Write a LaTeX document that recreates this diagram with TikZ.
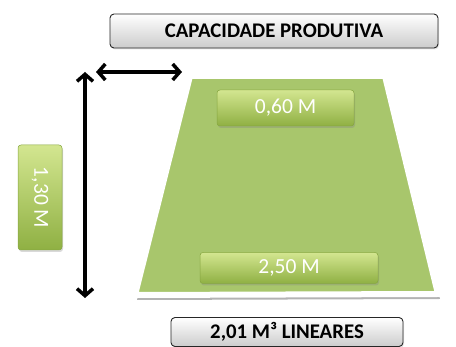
\documentclass[tikz,border=0pt]{standalone}
\usepackage{fontspec}
\setmainfont{Carlito}
\usetikzlibrary{shadows,arrows.meta}
\definecolor{field}{HTML}{A8C66C}
\definecolor{gtop}{HTML}{D3E690}
\definecolor{gbot}{HTML}{8FB043}
\definecolor{gedge}{HTML}{86A640}
\begin{document}
\begin{tikzpicture}[x=1pt,y=-1pt,
  graybox/.style={draw=black!85, line width=0.9pt, rounded corners=4pt,
    top color=white, bottom color=black!20, inner sep=0pt,
    font=\bfseries\fontsize{20.8}{24}\selectfont,
    drop shadow={opacity=0.2,shadow xshift=1pt,shadow yshift=-1.5pt}},
  greenbox/.style={draw=gedge, line width=0.5pt, rounded corners=3pt,
    top color=gtop, bottom color=gbot, inner sep=0pt, text=white,
    font=\fontsize{21.5}{24}\selectfont,
    drop shadow={opacity=0.3,shadow xshift=1pt,shadow yshift=-2pt}},
  dimarrow/.style={{Straight Barb[length=7pt,width=16pt,line width=3.5pt]}-{Straight Barb[length=7pt,width=16pt,line width=3.5pt]},
    line width=3.5pt, black}
]
\useasboundingbox (0,0) rectangle (456,347);
% field
\path[fill=field, draw=white, line width=6pt, line join=miter,
  drop shadow={opacity=0.6,shadow xshift=2pt,shadow yshift=-5pt}]
  (190,76) -- (385,76) -- (438,294) -- (135,295) -- cycle;
% title boxes
\node[graybox, minimum width=328pt, minimum height=34pt] (title) at (274,31) {CAPACIDADE PRODUTIVA};
\node[graybox, minimum width=232pt, minimum height=29pt] (total) at (287,332) {2,01 M³ LINEARES};
% green labels
\node[greenbox, minimum width=137pt, minimum height=36pt] (top) at (285.5,108) {0,60 M};
\node[greenbox, minimum width=178pt, minimum height=31pt] (bottom) at (289,268) {2,50 M};
\node[greenbox, rotate=-90, minimum width=105pt, minimum height=44pt] (height) at (40,197.5) {1,30 M};
% dimension arrows
\coordinate (hl) at (96,72);
\coordinate (hr) at (182,72);
\coordinate (vt) at (85,72);
\coordinate (vb) at (85,298);
\draw[dimarrow] (hl) -- (hr);
\draw[dimarrow] (vt) -- (vb);
\end{tikzpicture}
\end{document}
